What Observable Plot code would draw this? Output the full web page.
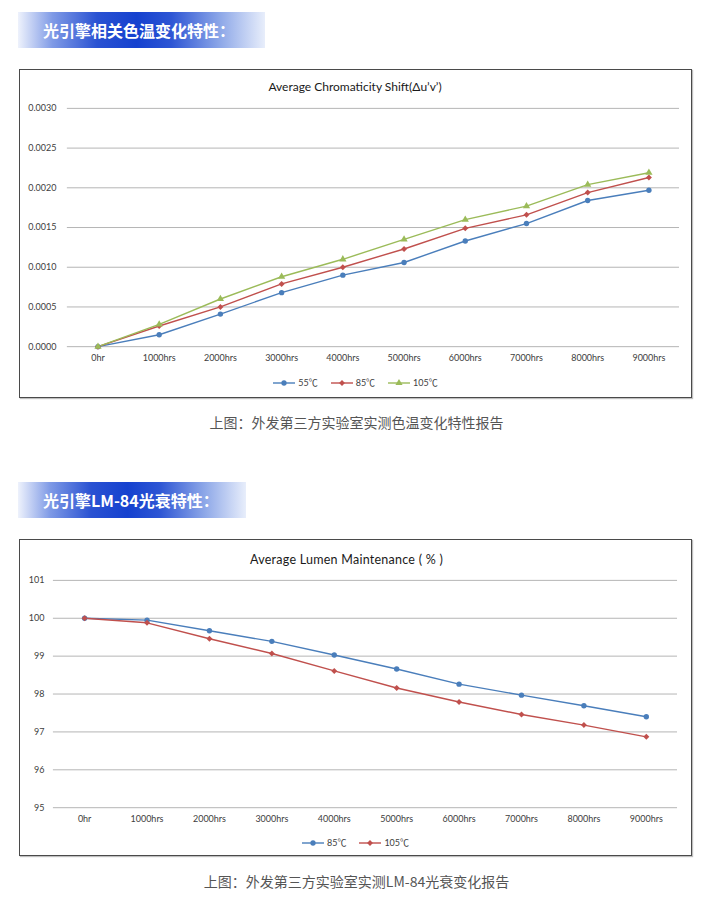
<!DOCTYPE html>
<html><head><meta charset="utf-8">
<script src="https://cdn.jsdelivr.net/npm/d3@7"></script>
<script src="https://cdn.jsdelivr.net/npm/@observablehq/plot@0.6"></script>
<style>
body{margin:0;background:#fff;width:713px;height:904px;position:relative;overflow:hidden;font-family:Lato,"Noto Sans CJK SC",sans-serif;}
.banner{position:absolute;left:18px;height:36px;background:linear-gradient(to right,#eef2fc 0%,#7f9ae6 14%,#2a52d2 32%,#1541cf 48%,#2d55d4 62%,#8ea8e8 82%,#e8eefb 100%);}
.banner span{position:absolute;left:25px;top:0;line-height:36px;color:#fff;font-weight:bold;font-size:16px;font-family:"Noto Sans CJK SC",sans-serif;letter-spacing:0px;}
.box{position:absolute;left:19px;width:673px;box-sizing:border-box;border:1.5px solid #4a4a4a;background:#fff;box-shadow:1px 1px 1px rgba(0,0,0,0.25);}
.box svg.plot{position:absolute;left:-1.5px;top:-1.5px;}
.title{position:absolute;left:-1.5px;width:673px;text-align:center;font-size:12px;color:#1a1a1a;line-height:16px;font-family:Lato,sans-serif;}
.legend{position:absolute;width:673px;left:-1.5px;display:flex;justify-content:center;align-items:center;font-size:9px;color:#404040;line-height:12px;}
.legend .item{display:flex;align-items:center;margin:0 6px;}
.legend .item span{margin-left:2px;}
.caption{position:absolute;left:0;width:713px;text-align:center;font-size:14px;color:#555;line-height:20px;font-family:"Noto Sans CJK SC",sans-serif;}
</style></head>
<body>
<div class="banner" style="top:12px;width:247px;"><span>光引擎相关色温变化特性：</span></div>
<div class="box" id="box1" style="top:69px;height:329px;">
  <div class="title" style="top:9px;">Average Chromaticity Shift(Δu’v’)</div>
</div>
<div class="caption" style="top:412px;">上图：外发第三方实验室实测色温变化特性报告</div>
<div class="banner" style="top:482px;width:228px;"><span>光引擎LM-84光衰特性：</span></div>
<div class="box" id="box2" style="top:539px;height:317px;">
  <div class="title" style="top:12px;left:230px;width:auto;text-align:left;font-size:12.5px;letter-spacing:0.25px;">Average Lumen Maintenance ( % )</div>
</div>
<div class="caption" style="top:871px;">上图：外发第三方实验室实测LM-84光衰变化报告</div>
<script>
const hours = ["0hr","1000hrs","2000hrs","3000hrs","4000hrs","5000hrs","6000hrs","7000hrs","8000hrs","9000hrs"];

const shiftSeries = ["55℃","85℃","105℃"];
const shift55  = [0, 0.00015, 0.00041, 0.00068, 0.00090, 0.00106, 0.00133, 0.00155, 0.00184, 0.00197];
const shift85  = [0, 0.00026, 0.00050, 0.00079, 0.00100, 0.00123, 0.00149, 0.00166, 0.00194, 0.00213];
const shift105 = [0, 0.00028, 0.00060, 0.00088, 0.00110, 0.00135, 0.00160, 0.00177, 0.00204, 0.00219];
const shiftTicks = [0, 0.0005, 0.0010, 0.0015, 0.0020, 0.0025, 0.0030];

const lumenSeries = ["85℃","105℃"];
const lumen85  = [100, 99.95, 99.67, 99.39, 99.03, 98.66, 98.26, 97.97, 97.69, 97.40];
const lumen105 = [100, 99.88, 99.46, 99.07, 98.61, 98.16, 97.79, 97.46, 97.18, 96.87];
const lumenTicks = [95, 96, 97, 98, 99, 100, 101];

const blue = "#4a7ebb", red = "#c0504d", green = "#9bbb59";

function table(series, arrays){
  const rows = [];
  series.forEach((s,i)=>arrays[i].forEach((v,j)=>rows.push({series:s, hour:hours[j], value:v})));
  return rows;
}

function makeChart(cfg){
  const data = table(cfg.series, cfg.arrays);
  return Plot.plot({
    width:673, height:300,
    marginLeft:cfg.ml, marginRight:cfg.mr, marginTop:cfg.mt, marginBottom:cfg.mb,
    style:{fontFamily:"Lato, 'Noto Sans', sans-serif", fontSize:"9px", color:"#404040", background:"transparent"},
    x:{type:"point", domain:hours, padding:0.5, round:false, label:null},
    y:{domain:cfg.domain, label:null},
    color:{domain:cfg.series, range:cfg.colors},
    symbol:{domain:cfg.series, range:cfg.symbols},
    marks:[
      Plot.gridY(cfg.ticks, {stroke:"#b5b5b5", strokeOpacity:1, strokeWidth:1}),
      Plot.axisY(cfg.ticks, {tickSize:0, tickPadding:cfg.tp, tickFormat:cfg.fmt, label:null}),
      Plot.axisX({tickSize:0, tickPadding:8, label:null}),
      Plot.line(data, {x:"hour", y:"value", z:"series", stroke:"series", strokeWidth:1.4}),
      Plot.dot(data, {x:"hour", y:"value", fill:"series", symbol:"series", r:2.7, stroke:"none"})
    ]
  });
}

function legend(series, colors, symbols, top){
  const div = document.createElement("div");
  div.className = "legend";
  div.style.top = top + "px";
  series.forEach((s,i)=>{
    const item = document.createElement("div");
    item.className = "item";
    const svg = d3.create("svg").attr("width",24).attr("height",10);
    svg.append("line").attr("x1",1).attr("x2",23).attr("y1",5).attr("y2",5).attr("stroke",colors[i]).attr("stroke-width",1.4);
    const symMap = {circle:d3.symbolCircle, diamond2:d3.symbolDiamond2, triangle:d3.symbolTriangle};
    svg.append("path").attr("transform","translate(12,5)").attr("d",d3.symbol(symMap[symbols[i]], 22)()).attr("fill",colors[i]);
    item.appendChild(svg.node());
    const t = document.createElement("span"); t.textContent = s;
    item.appendChild(t);
    div.appendChild(item);
  });
  return div;
}

const box1 = document.getElementById("box1");
const c1 = makeChart({series:shiftSeries, arrays:[shift55, shift85, shift105], domain:[0,0.003], ticks:shiftTicks,
  fmt:d3.format(".4f"), ml:47, mr:12, mt:38, mb:23, tp:11,
  colors:[blue, red, green], symbols:["circle","diamond2","triangle"]});
box1.appendChild(c1);
box1.appendChild(legend(shiftSeries, [blue, red, green], ["circle","diamond2","triangle"], 307));

const box2 = document.getElementById("box2");
const c2 = makeChart({series:lumenSeries, arrays:[lumen85, lumen105], domain:[95,101], ticks:lumenTicks,
  fmt:d3.format("d"), ml:33, mr:14, mt:40, mb:32, tp:9,
  colors:[blue, red], symbols:["circle","diamond2"]});
box2.appendChild(c2);
box2.appendChild(legend(lumenSeries, [blue, red], ["circle","diamond2"], 297));
</script>
</body></html>
